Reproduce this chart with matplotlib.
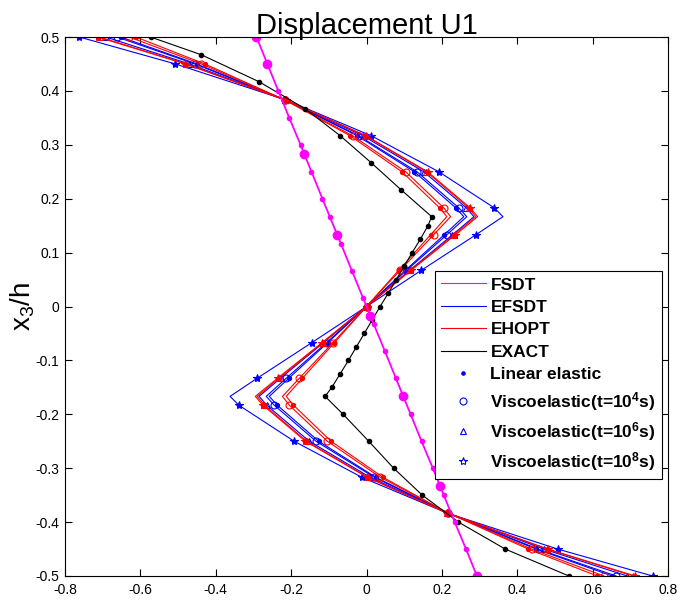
import matplotlib
matplotlib.use("Agg")
import matplotlib.pyplot as plt
from matplotlib.lines import Line2D

plt.rcParams['font.family'] = ['Liberation Sans', 'DejaVu Sans']
plt.rcParams['axes.unicode_minus'] = False
plt.rcParams['mathtext.fontset'] = 'custom'
plt.rcParams['mathtext.rm'] = 'Liberation Sans'
plt.rcParams['mathtext.it'] = 'Liberation Sans'
plt.rcParams['mathtext.bf'] = 'Liberation Sans:bold'

# FSDT (same for every material case)
y_fsdt = [0.5, 0.45, 0.4, 0.35, 0.3, 0.25, 0.2, 0.1667, 0.1167, 0.0667, 0.0167,
          -0.0333, -0.0833, -0.1333, -0.1667, -0.2, -0.25, -0.3, -0.35, -0.4, -0.45, -0.5]
x_fsdt = [-0.292, -0.263, -0.234, -0.205, -0.175, -0.146, -0.117, -0.0975, -0.068, -0.039, -0.0098,
          0.0195, 0.049, 0.078, 0.0975, 0.117, 0.146, 0.176, 0.205, 0.234, 0.264, 0.293]
y_fsdt_o = [0.5, 0.45, 0.2833, 0.1333, -0.0167, -0.1667, -0.3333, -0.5]
x_fsdt_o = [-0.292, -0.263, -0.166, -0.078, 0.0098, 0.0975, 0.195, 0.293]

# exact solution
y_exact = [0.5, 0.467, 0.417, 0.367, 0.317, 0.267, 0.217, 0.1667,
           0.15, 0.125, 0.1, 0.075, 0.05, 0.025, 0.0, -0.025, -0.05, -0.075, -0.1, -0.125, -0.15,
           -0.1667, -0.2, -0.25, -0.3, -0.35, -0.4, -0.45, -0.5]
x_exact = [-0.573, -0.438, -0.285, -0.163, -0.070, 0.012, 0.091, 0.173,
           0.163, 0.143, 0.121, 0.100, 0.079, 0.058, 0.036, 0.015, -0.006, -0.027, -0.048, -0.070, -0.092,
           -0.110, -0.062, 0.006, 0.072, 0.148, 0.244, 0.368, 0.537]

# EFSDT / EHOPT, sampled on the same thickness points
y_model = [0.5, 0.45, 0.383, 0.317, 0.25, 0.183, 0.1667, 0.133, 0.067, 0.0,
           -0.067, -0.133, -0.1667, -0.183, -0.25, -0.317, -0.383, -0.45, -0.5]

x_efsdt_lin = [-0.652, -0.450, -0.215, -0.025, 0.127, 0.237, 0.258, 0.206, 0.103, 0.0,
               -0.103, -0.206, -0.258, -0.237, -0.127, 0.025, 0.215, 0.450, 0.652]
x_efsdt_t4 = [-0.662, -0.455, -0.215, -0.021, 0.134, 0.245, 0.266, 0.213, 0.106, 0.0,
              -0.106, -0.213, -0.266, -0.245, -0.134, 0.021, 0.215, 0.455, 0.662]
x_efsdt_t6 = [-0.692, -0.470, -0.215, -0.010, 0.152, 0.265, 0.285, 0.228, 0.114, 0.0,
              -0.114, -0.228, -0.285, -0.265, -0.152, 0.010, 0.215, 0.470, 0.692]
x_efsdt_t8 = [-0.762, -0.507, -0.213, 0.012, 0.192, 0.339, 0.362, 0.290, 0.145, 0.0,
              -0.145, -0.290, -0.362, -0.339, -0.192, -0.012, 0.213, 0.507, 0.759]

x_ehopt_lin = [-0.612, -0.429, -0.216, -0.044, 0.094, 0.194, 0.213, 0.170, 0.085, 0.0,
               -0.085, -0.170, -0.213, -0.194, -0.094, 0.044, 0.216, 0.429, 0.612]
x_ehopt_t4 = [-0.630, -0.438, -0.216, -0.037, 0.104, 0.205, 0.223, 0.178, 0.089, 0.0,
              -0.089, -0.178, -0.223, -0.205, -0.104, 0.037, 0.216, 0.438, 0.630]
x_ehopt_t6 = [-0.708, -0.478, -0.214, -0.004, 0.159, 0.271, 0.290, 0.232, 0.116, 0.0,
              -0.116, -0.232, -0.290, -0.271, -0.159, 0.004, 0.214, 0.478, 0.708]
x_ehopt_t8 = [-0.713, -0.481, -0.214, -0.002, 0.162, 0.275, 0.295, 0.236, 0.118, 0.0,
              -0.118, -0.236, -0.295, -0.275, -0.162, 0.002, 0.214, 0.481, 0.713]

cases = ['Linear elastic',
         r'Viscoelastic(t=10$^{\mathbf{4}}$s)',
         r'Viscoelastic(t=10$^{\mathbf{6}}$s)',
         r'Viscoelastic(t=10$^{\mathbf{8}}$s)']
markers = ['.', 'o', '^', '*']
msizes = [6, 5, 5, 6]
magenta = '#ff00ff'

fig = plt.figure(figsize=(6.8, 6.01), dpi=100)
ax = fig.add_axes([0.0956, 0.0416, 0.8868, 0.8968])

# no marker on the kink points
marks = [i for i in range(len(y_model)) if i not in (6, 12)]

efsdt = [x_efsdt_lin, x_efsdt_t4, x_efsdt_t6, x_efsdt_t8]
ehopt = [x_ehopt_lin, x_ehopt_t4, x_ehopt_t6, x_ehopt_t8]
for xs, mk, ms in zip(efsdt, markers, msizes):
    ax.plot(xs, y_model, color='b', lw=0.8, marker=mk, ms=ms, mfc='b' if mk in '.*' else 'none',
            mec='b', mew=0.8, markevery=marks)
for xs, mk, ms in zip(ehopt, markers, msizes):
    ax.plot(xs, y_model, color='r', lw=0.8, marker=mk, ms=ms, mfc='r' if mk in '.*' else 'none',
            mec='r', mew=0.8, markevery=marks)

ax.plot(x_exact, y_exact, color='k', lw=0.8, marker='.', ms=6)

ax.plot(x_fsdt, y_fsdt, color=magenta, lw=1.3, marker='.', ms=6)
ax.plot(x_fsdt_o, y_fsdt_o, ls='none', marker='o', ms=6, color=magenta)

ax.set_xlim(-0.8, 0.8)
ax.set_ylim(-0.5, 0.5)
ax.set_xticks([-0.8, -0.6, -0.4, -0.2, 0, 0.2, 0.4, 0.6, 0.8])
ax.set_xticklabels(['-0.8', '-0.6', '-0.4', '-0.2', '0', '0.2', '0.4', '0.6', '0.8'])
ax.set_yticks([-0.5, -0.4, -0.3, -0.2, -0.1, 0, 0.1, 0.2, 0.3, 0.4, 0.5])
ax.set_yticklabels(['-0.5', '-0.4', '-0.3', '-0.2', '-0.1', '0', '0.1', '0.2', '0.3', '0.4', '0.5'])
ax.tick_params(direction='in', top=True, right=True, length=5, width=0.8, labelsize=10)
ax.tick_params(axis='x', pad=5)
ax.tick_params(axis='y', pad=4)
for sp in ax.spines.values():
    sp.set_linewidth(0.8)

ax.set_title('Displacement U1', fontsize=21, pad=2)
ax.set_ylabel(r'x$_3$/h', fontsize=20, labelpad=-1)

handles = [Line2D([], [], color=magenta, lw=0.8),
           Line2D([], [], color='b', lw=0.8),
           Line2D([], [], color='r', lw=0.8),
           Line2D([], [], color='k', lw=0.8)]
for mk in markers:
    handles.append(Line2D([], [], ls='none', marker=mk, color='b', ms=5 if mk != '*' else 6,
                          mfc='b' if mk == '.' else 'none', mew=0.8))
labels = ['FSDT', 'EFSDT', 'EHOPT', 'EXACT'] + cases
leg = ax.legend(handles, labels, loc='lower right', bbox_to_anchor=(0.99, 0.180),
                prop={'size': 12.5, 'weight': 'bold'}, fancybox=False, framealpha=1,
                edgecolor='k', borderpad=0.35, labelspacing=0.42, handlelength=2.6,
                handletextpad=0.25, borderaxespad=0)
leg.get_frame().set_linewidth(0.8)

fig.savefig('out.png', dpi=100)
